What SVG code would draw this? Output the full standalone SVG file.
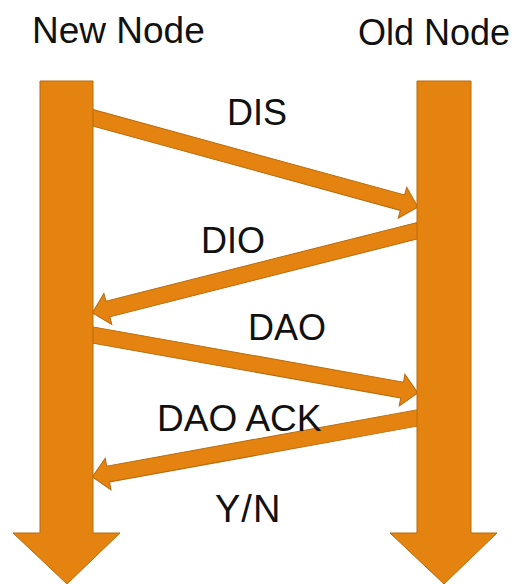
<svg xmlns="http://www.w3.org/2000/svg" width="520" height="584" viewBox="0 0 520 584">
<style>
.sh{fill:#E4830F;stroke:#B86A0C;stroke-width:1;stroke-linejoin:miter}
.t{font-family:"Liberation Sans",Arial,sans-serif;font-size:36px;fill:#111}
</style>
<rect width="520" height="584" fill="#fff"/>
<g id="connectors">
<g id="dis-arrow" transform="translate(90,117) rotate(15.34)"><path class="sh" d="M0,-8 H324 V-16 L340,0 L324,16 V8 H0 Z"/></g>
<g id="dio-arrow" transform="translate(420,230) rotate(165.80)"><path class="sh" d="M0,-8 H322 V-16 L338,0 L322,16 V8 H0 Z"/></g>
<g id="dao-arrow" transform="translate(90,334.5) rotate(10.11)"><path class="sh" d="M0,-8 H317 V-16 L333,0 L317,16 V8 H0 Z"/></g>
<g id="daoack-arrow" transform="translate(420,417.5) rotate(169.72)"><path class="sh" d="M0,-8 H317 V-16 L333,0 L317,16 V8 H0 Z"/></g>
</g>
<g id="new-node">
<polygon class="sh" points="40,81 93,81 93,533 120,533 67,584 13,533 40,533"/>
<text class="t" x="32" y="43" style="font-size:37px">New Node</text>
</g>
<g id="old-node">
<polygon class="sh" points="417,81 471,81 471,533 497,533 444,584 390,533 417,533"/>
<text class="t" x="358" y="45">Old Node</text>
</g>
<g id="labels">
<text class="t" x="227" y="125">DIS</text>
<text class="t" x="201" y="253">DIO</text>
<text class="t" x="248" y="340">DAO</text>
<text class="t" x="157" y="431" style="font-size:37px">DAO ACK</text>
<text class="t" x="215" y="522" style="font-size:38px;letter-spacing:1px">Y/N</text>
</g>
</svg>
